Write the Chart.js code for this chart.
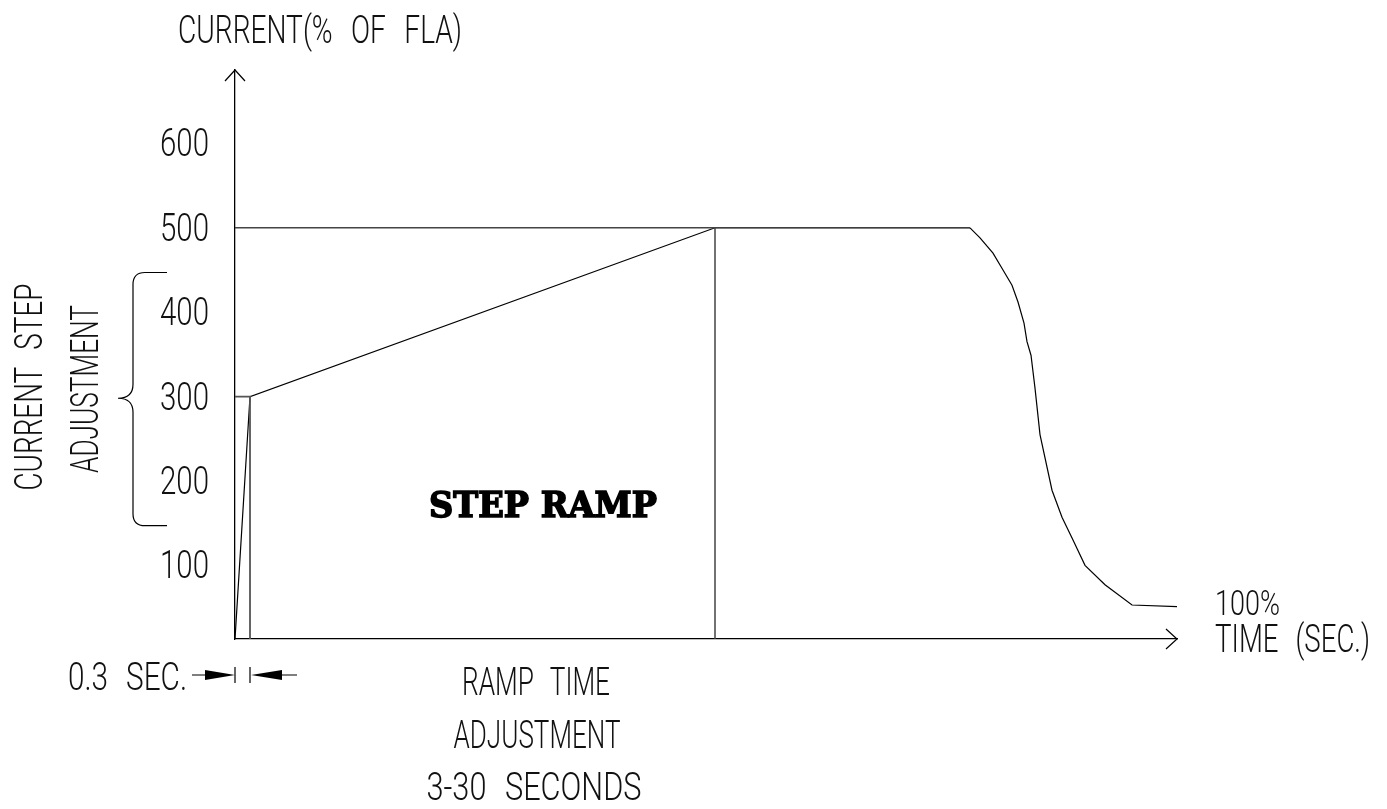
<!DOCTYPE html>
<html>
<head>
<meta charset="utf-8">
<script src="https://cdn.jsdelivr.net/npm/chart.js@4.4.1/dist/chart.umd.min.js"></script>
<style>
  html, body { margin: 0; padding: 0; background: #fff; }
  #wrap { width: 1387px; height: 809px; }
</style>
</head>
<body>
<div id="wrap"><canvas id="stepChart" width="1387" height="809"></canvas></div>
<script>
// ── DATA (time in seconds, current in % of FLA) ──
const yTicks = [100, 200, 300, 400, 500, 600];
const axisMin = 12.7;
const axisMax = 687;
const timeMax = 18.84;

const startTime = [0, 0.3, 9.6, 14.7];
const startCurrent = [12.7, 300, 500, 500];

const decayTime = [14.7, 14.9, 15.16, 15.36, 15.54, 15.66, 15.78, 15.84, 15.92, 16.0, 16.1, 16.34, 16.54, 16.76, 17.0, 17.4, 17.94, 18.84];
const decayCurrent = [500, 488, 470, 450, 432, 412, 387, 365, 349, 310, 255, 189, 157, 130, 100, 77, 53, 51];

const stepGuideTime = [0, 0.3, 0.3];
const stepGuideCurrent = [300, 300, 12.7];
const rampGuideTime = [0, 9.6, 9.6];
const rampGuideCurrent = [500, 500, 12.7];

// brace spans the step adjustment range
const braceTop = 447;
const braceMid = 298;
const braceBottom = 147;

const CAD = 'Roboto, "Liberation Sans", sans-serif';

function pts(xs, ys) {
  return xs.map((x, i) => ({ x: x, y: ys[i] }));
}

// thin lettering squeezed to a width, like the CAD font
function cadText(ctx, text, x, y, opts) {
  const cap = opts.cap || 28;
  const size = Math.round(cap / 0.711);
  ctx.save();
  ctx.font = (opts.weight || '300') + ' ' + size + 'px ' + (opts.family || CAD);
  ctx.fillStyle = opts.color || '#111';
  ctx.textBaseline = 'alphabetic';
  ctx.textAlign = 'left';
  ctx.wordSpacing = (opts.gap != null ? opts.gap : 14) + 'px';
  const w = ctx.measureText(text).width;
  const sx = opts.width ? opts.width / w : 1;
  ctx.translate(x, y);
  if (opts.rotate) ctx.rotate(opts.rotate);
  let left = 0;
  if (opts.align === 'center') left = -w * sx / 2;
  if (opts.align === 'right') left = -w * sx;
  ctx.translate(left, 0);
  ctx.scale(sx, 1);
  ctx.fillText(text, 0, 0);
  if (opts.heavy) {
    ctx.strokeStyle = ctx.fillStyle;
    ctx.lineWidth = opts.heavy;
    ctx.strokeText(text, 0, 0);
  }
  ctx.restore();
}

const drawingPlugin = {
  id: 'drawing',
  afterDraw(chart) {
    const ctx = chart.ctx;
    const area = chart.chartArea;
    const xs = chart.scales.x;
    const ys = chart.scales.y;

    // y tick labels, placed by the scale
    ys.ticks.forEach(t => {
      cadText(ctx, String(t.value), area.left - 26, ys.getPixelForValue(t.value) + 13, { width: 49, cap: 27, align: 'right' });
    });

    ctx.save();
    ctx.strokeStyle = '#000';
    ctx.fillStyle = '#000';
    ctx.lineWidth = 1.2;

    // axis arrowheads
    ctx.beginPath();
    ctx.moveTo(area.left - 10, area.top + 11);
    ctx.lineTo(area.left, area.top);
    ctx.lineTo(area.left + 10, area.top + 11);
    ctx.moveTo(area.right - 11, area.bottom - 10);
    ctx.lineTo(area.right, area.bottom);
    ctx.lineTo(area.right - 11, area.bottom + 10);
    ctx.stroke();

    // brace
    const bt = ys.getPixelForValue(braceTop);
    const bm = ys.getPixelForValue(braceMid);
    const bb = ys.getPixelForValue(braceBottom);
    const bx = 133;
    ctx.beginPath();
    ctx.moveTo(167, bt);
    ctx.lineTo(145, bt);
    ctx.quadraticCurveTo(bx, bt, bx, bt + 12);
    ctx.lineTo(bx, bm - 14);
    ctx.quadraticCurveTo(bx, bm, 118, bm);
    ctx.quadraticCurveTo(bx, bm, bx, bm + 14);
    ctx.lineTo(bx, bb - 12);
    ctx.quadraticCurveTo(bx, bb, 145, bb);
    ctx.lineTo(167, bb);
    ctx.stroke();

    // 0.3 sec dimension arrows
    const dy = 675;
    const x0 = xs.getPixelForValue(stepGuideTime[0]);
    const x1 = xs.getPixelForValue(stepGuideTime[1]);
    ctx.beginPath();
    ctx.moveTo(192, dy); ctx.lineTo(x0 - 28, dy);
    ctx.moveTo(x0, dy - 8); ctx.lineTo(x0, dy + 8);
    ctx.moveTo(x1, dy - 8); ctx.lineTo(x1, dy + 8);
    ctx.moveTo(x1 + 30, dy); ctx.lineTo(x1 + 47, dy);
    ctx.stroke();
    ctx.beginPath();
    ctx.moveTo(x0, dy); ctx.lineTo(x0 - 30, dy - 5); ctx.lineTo(x0 - 30, dy + 5); ctx.closePath();
    ctx.moveTo(x1 + 1, dy); ctx.lineTo(x1 + 32, dy - 5); ctx.lineTo(x1 + 32, dy + 5); ctx.closePath();
    ctx.fill();
    ctx.restore();

    // lettering
    cadText(ctx, 'CURRENT(% OF FLA)', 178, 43, { width: 284, gap: 16 });
    cadText(ctx, 'CURRENT STEP', 42, 387, { width: 207, rotate: -Math.PI / 2, align: 'center', cap: 27 });
    cadText(ctx, 'ADJUSTMENT', 98, 389, { width: 168, rotate: -Math.PI / 2, align: 'center', cap: 27 });
    cadText(ctx, '0.3 SEC.', 68, 690, { width: 119 });
    cadText(ctx, 'RAMP TIME', 536, 695, { width: 148, align: 'center' });
    cadText(ctx, 'ADJUSTMENT', 537, 748, { width: 167, align: 'center' });
    cadText(ctx, '3-30 SECONDS', 534, 800, { width: 215, align: 'center' });
    cadText(ctx, '100%', 1215, 615, { width: 65, cap: 25 });
    cadText(ctx, 'TIME (SEC.)', 1215, 652, { width: 155, cap: 27 });
    cadText(ctx, 'STEP RAMP', 429, 517, { width: 228, cap: 25, weight: 'bold', gap: 0, heavy: 1.6, family: '"DejaVu Serif", "Liberation Serif", serif', color: '#000' });
  }
};

const lineStyle = { showLine: true, pointRadius: 0, tension: 0, clip: false, fill: false };

new Chart(document.getElementById('stepChart'), {
  type: 'scatter',
  data: {
    datasets: [
      Object.assign({ data: pts(rampGuideTime, rampGuideCurrent), borderColor: '#444', borderWidth: 1.5 }, lineStyle),
      Object.assign({ data: pts(stepGuideTime, stepGuideCurrent), borderColor: '#555', borderWidth: 1.8 }, lineStyle),
      Object.assign({ data: pts(startTime, startCurrent), borderColor: '#000', borderWidth: 1.2 }, lineStyle),
      Object.assign({ data: pts(decayTime, decayCurrent), borderColor: '#000', borderWidth: 1.2 }, lineStyle)
    ]
  },
  options: {
    responsive: false,
    animation: false,
    layout: { padding: { left: 0, right: 210, top: 70, bottom: 170 } },
    plugins: { legend: { display: false }, tooltip: { enabled: false } },
    scales: {
      x: {
        type: 'linear',
        min: 0,
        max: timeMax,
        grid: { display: false, drawTicks: false, tickLength: 0 },
        border: { display: true, color: '#000', width: 1.3 },
        ticks: { display: false },
        afterFit: s => { s.height = 0; }
      },
      y: {
        min: axisMin,
        max: axisMax,
        grid: { display: false, drawTicks: false, tickLength: 0 },
        border: { display: true, color: '#000', width: 1.3 },
        ticks: { display: false },
        afterBuildTicks: s => { s.ticks = yTicks.map(v => ({ value: v })); },
        afterFit: s => { s.width = 235; }
      }
    }
  },
  plugins: [drawingPlugin]
});
</script>
</body>
</html>
